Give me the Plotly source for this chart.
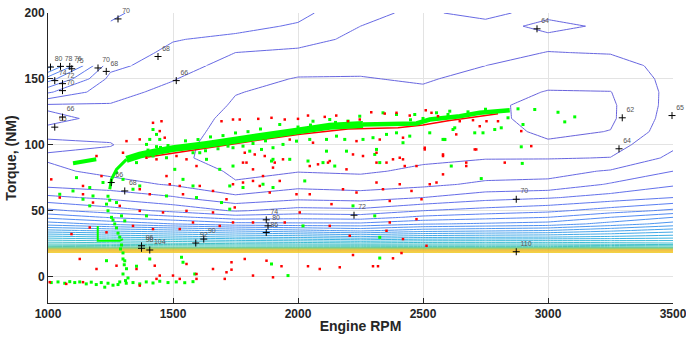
import plotly.graph_objects as go

# ---------------- contour map data ----------------
rpm_grid = [1000, 1250, 1500, 1750, 2000, 2250, 2500, 2750, 3000, 3250, 3500]
torque_grid = [18, 19, 20, 21, 22, 25, 30, 35, 40, 45, 50, 60, 70, 80, 90, 100, 110, 120, 130, 140, 150, 160]
z_low = [
    [150, 150, 150, 150, 150, 150, 150, 150, 150, 150, 150],
    [140, 140, 140, 140, 140, 140, 140, 140, 140, 140, 140],
    [126, 125.5, 125.5, 125, 125, 125, 125, 125, 125, 125, 125],
    [115, 114.5, 114.5, 114, 114, 114, 114, 114, 114, 113.5, 113],
    [106, 105.5, 105, 104.5, 104.5, 104.5, 104, 104, 104, 103.5, 103],
    [99.5, 99, 98.5, 98, 97.5, 97, 97.5, 97.5, 97.5, 97, 96.5],
    [93, 92, 91, 90, 89.5, 88.5, 89.5, 89.8, 90, 90.5, 91.2],
    [86.5, 85.5, 84.5, 83.5, 82.5, 81.5, 83, 83.5, 84, 85.5, 87],
    [81, 79.5, 78, 76.7, 76.5, 76.5, 77.8, 78.3, 78.8, 80.8, 82.8],
    [77.5, 75.8, 74.5, 73, 73.3, 73, 74.5, 75.3, 76, 78, 80],
    [74.5, 73, 71.5, 69.8, 70.8, 70.6, 72, 72.8, 73.5, 75, 76.5],
    [70.5, 69.5, 68.2, 66.5, 67.4, 67.1, 68, 69.2, 69.8, 70.8, 72],
    [67.3, 66.7, 65.8, 64.1, 65.3, 65, 65.5, 66.4, 66.5, 68.2, 69.7],
    [66.4, 65.5, 64.8, 63.8, 63.9, 63.7, 64.4, 65, 65.3, 66.2, 68],
    [65.8, 65.3, 64.15, 63.7, 63.4, 63.4, 63.6, 63.9, 63.9, 64.05, 66.5],
    [66.3, 66.1, 64.25, 63.6, 63.3, 63.3, 63.3, 63.2, 62.3, 63.2, 65.6],
    [65.6, 65.5, 64.45, 63.6, 63.3, 63.3, 63.2, 62.8, 61.6, 62.05, 65.2],
    [66.4, 65.6, 64.6, 63.7, 63.4, 63.3, 63.2, 62.5, 61.3, 61.7, 64.9],
    [65.7, 65.9, 65.0, 63.85, 63.5, 63.4, 63.4, 62.4, 61.4, 61.7, 64.7],
    [70.3, 66.6, 65.5, 64.05, 63.7, 63.6, 63.7, 62.8, 61.9, 61.95, 64.6],
    [75, 67.4, 66.1, 64.6, 63.9, 63.9, 64.2, 63.4, 62.6, 62.8, 64.5],
    [81, 68.6, 66.8, 65.3, 64.6, 64.4, 64.7, 64.0, 63.4, 63.3, 64.6],
]
rpm_grid_top = [1250, 1500, 1750, 2000, 2250, 2500, 2750, 3000, 3250, 3500]
torque_grid_top = [160, 170, 180, 190, 200]
z_top = [
    [68.6, 66.8, 65.3, 64.6, 64.4, 64.7, 64.0, 63.4, 63.3, 64.6],
    [69.0, 67.6, 66.0, 65.7, 65.0, 65.0, 64.6, 63.95, 64.1, 65.2],
    [69.3, 68.1, 67.6, 66.6, 65.6, 65.2, 65.0, 64.6, 64.6, 65.5],
    [69.7, 68.3, 68.5, 67.8, 66.0, 65.2, 64.9, 63.4, 64.4, 65.6],
    [70.5, 68.4, 69.0, 68.5, 66.6, 65.5, 67.0, 64.6, 65.0, 65.8],
]

# ---------------- operating points ----------------
band_curve_rpm = [1247, 1254, 1274, 1314]
band_curve_torque = [66.3, 73.8, 81.4, 89]
band_left_rpm = [1314, 1367, 1434, 1500, 1634, 1767, 1860, 1994, 2127, 2260]
band_left_torque = [89, 92.2, 94.8, 97.1, 100.3, 103.6, 107, 110.4, 114.1, 115.4]
band_right_rpm = [2260, 2394, 2474, 2527, 2647, 2727, 2807, 2847]
band_right_torque = [115.4, 115.4, 116.2, 119.2, 121.7, 124.3, 126.1, 126.3]
red_band_rpm = [1400, 1600, 1800, 2000, 2200, 2400, 2500, 2600, 2700, 2800]
red_band_torque = [90.8, 96.8, 102.4, 107.8, 112.0, 112.9, 115.0, 118.2, 121.0, 123.5]
green_path_rpm = [1199, 1199, 1287, 1300]
green_path_torque = [38.5, 27.2, 27.2, 28.5]
cluster_rpm = [1100, 1150, 1193]
cluster_torque = [86.0, 87.5, 89.0]

green_rpm = [
    1240, 1234, 1240, 1254, 1267, 1274, 1280, 1287, 1294, 1300, 1307, 1314, 1300, 1310, 1280, 1247, 1260, 1290, 1305, 1320,
    1420, 1434, 1407, 1447, 1394, 1434, 1420, 1474, 1354, 1274, 1300, 1367, 1507, 1540, 1580, 1687, 1607, 1634, 1740, 1114, 1167,
    1740, 1780, 1807, 1854, 1900, 1940, 1994, 2047, 2114, 2154, 2187, 2260, 2300, 2354, 2394, 2447, 2527, 2580, 2620, 1900, 1967, 2114, 2194, 2314, 2420,
    1927, 2060, 2127, 2247, 2340, 2394, 2467, 2554, 2607,
    2880, 2947, 3040, 3067, 3107, 2900, 2840, 2813, 2787, 2740, 2707, 2627, 2587, 2893, 2897, 2733,
    1047, 1100, 1180, 1220, 1340, 1167, 1140, 1274, 1294, 1307, 1394, 1474, 1594, 1694, 1727, 1234, 1300, 1354, 1407, 1534, 1540, 1587, 1227,
    1780, 1860, 1900, 2027, 1727, 2020, 2220, 2307, 2327, 1894, 1960, 2327,
    1013, 1040, 1067, 1087, 1107, 1127, 1153, 1173, 1193, 1213, 1240, 1260, 1287, 1313, 1340, 1367, 1393, 1420, 1447, 1480, 1513, 1547, 1580,
    1894, 2040, 2307, 2327, 2100, 2147, 2613, 2587,
    1550, 1600, 1650, 1700, 1750, 1800, 1850, 1580, 1630, 1680, 1720, 1820, 1870, 2000, 2050, 2150, 2200, 2450, 2500, 2600, 2680, 2750, 1450, 1480, 1400,
]
green_torque = [
    61, 55, 50, 45, 40, 37, 33, 30, 24, 18, 12, 6, 2, -3, -6, 58, 43, 21, 9, -1,
    111.6, 107.9, 104.1, 104.1, 100.3, 98.6, 91.5, 90.2, 86.5, 78.9, 73.8, 68.8, 81.4, 73.8, 68.8, 81.4, 94, 89, 83.9, 75.1, 67.6,
    97.8, 99, 95.2, 96.5, 97.8, 100.3, 102.8, 104.1, 104.1, 106.6, 104.1, 104.1, 105.4, 107.9, 109.1, 106.6, 109.1, 104.1, 111.6, 89, 89, 95.2, 95.2, 96.5, 101.6,
    115.4, 117.9, 119.2, 121.7, 124.3, 123, 123, 124.3, 125.5,
    127.3, 126.8, 124.7, 117.4, 121.2, 115.4, 120.5, 112.9, 111.6, 109.1, 109.1, 112.9, 104.1, 98.5, 85.9, 74.4,
    62.5, 65, 61.2, 71.4, 66.3, 53.7, 58.7, 56.2, 46.1, 42.3, 46.1, 61.2, 60, 56.2, 68.8, 12.1, 13.4, 7.9, 13.4, 14.7, 10.9, 2, -8,
    67.6, 70.1, 67.6, 72.6, 51.2, 38.5, 53.7, 46.1, 29.8, 9.6, 0.8, 14.1,
    -4.5, -4, -5, -3.8, -4.5, -4, -5.5, -4.2, -6, -4.5, -5, -6.5, -4, -5, -4.5, -5.5, -4, -4.8, -3.5, -4.5, -4, -4.6, -3.8,
    87.7, 87.7, 92.7, 86.5, 86.5, 83.9, 83.9, 104,
    103, 104, 106, 107, 109, 110, 112, 94, 95.5, 97, 99, 101, 103, 113.5, 115, 117, 118, 119, 120, 123, 125, 127, 98, 99.5, 96,
]

red_rpm = [
    1767, 1841, 1894, 1947, 2000, 2040, 2107, 2153, 2200, 2247, 2293, 2347, 2394, 2447, 2511, 2534, 2560,
    1780, 1820, 1860, 1940, 2047, 2127, 2194, 2260, 2314, 2380, 2420, 2474, 2507, 2580, 2554,
    1967, 2060, 2234, 2327, 2420,
    1420, 1454, 1447, 1467, 1367, 1300, 1314, 1394, 1434, 1514, 1554, 1594, 1474, 1527, 1694, 1740, 1194, 1214, 1140, 1013,
    1047, 1140, 1180, 1287, 1367, 1407, 1487, 1540, 1607, 1660, 1714, 1747, 1367, 1460, 1554, 1660,
    1094, 1167, 1234, 1340, 1420, 1527, 1580, 1687,
    1127, 1194, 1274, 1354, 1427, 1447, 1527, 1554, 1594, 1660, 1714, 1734,
    1007, 1073, 1140, 1367, 1434, 1500, 1594, 1707,
    1740, 1780, 1820, 1847, 1887, 1927, 1994, 2047, 2134, 2180, 2234, 2314, 2340, 2367, 2407, 2454, 2494, 2527,
    1740, 1820, 1947, 2007, 2127, 2207, 2354, 2367, 2420, 2474, 2514,
    1787, 1874, 1934, 2040, 2087, 2167, 2220, 2300, 2320, 2380, 2414, 1734, 1820, 1900,
    2893, 2933, 2707, 2633, 2673, 2827, 2580, 2713, 2580, 2647, 2700, 2754, 2727, 2800,
    1787, 1827, 1867, 1907, 1794, 1900, 2080, 2120, 2220, 2314, 2354, 2407, 2427, 2507, 2673,
]
red_torque = [
    119.2, 119.7, 120.5, 119.2, 119.7, 122.2, 121.2, 122.2, 117.9, 119.2, 124.7, 123.7, 124.3, 122.2, 126.2, 124.3, 121.7,
    86.5, 81.4, 76.3, 89, 83.9, 87.7, 81.4, 91.5, 86.5, 89, 89, 83.9, 96.5, 91.5, 71.4,
    104, 101.6, 102.8, 104, 105.4,
    116.7, 117.9, 110.4, 105.4, 104.1, 94, 102.8, 90.2, 89, 91.5, 89, 83.9, 76.3, 68.8, 117.9, 119.2, 91.5, 76.3, 68.8, 73.8,
    60, 62.5, 56.2, 53.7, 66.3, 62.5, 70.1, 62.5, 68.8, 65, 58.7, 52.5, 49.9, 48.7, 49.9, 48.7,
    32.3, 37.3, 33.6, 38.5, 36.1, 36.1, 41.1, 38.5,
    13.4, 5.8, 8.3, 5.8, 8.3, 0.8, -1.7, 9.6, 2, 5.8, 3.3, 10.9,
    -4.2, -5.5, -4.2, -6.8, -1.7, 0.8, -1.7, -1.7,
    70.1, 71.4, 72.6, 68.8, 63.8, 72.6, 62.5, 62.5, 55, 66.3, 63.8, 71.4, 66.3, 57.4, 70.1, 65, 58.7, 70.1,
    41.1, 41.1, 41.1, 48.7, 38.5, 31, 34.8, 41.1, 28.5, 43.6, 23.4,
    13.4, 12.1, 7.9, 7.9, 5.8, 7.1, 16.4, 7.9, 7.9, 13.9, 17.9, 5.3, 0.8, -0.5,
    110.4, 99, 96.5, 107.9, 86.5, 86.5, 92.7, 96.5, 77.6, 117.9, 118.7, 117.9, 114.1, 117.9,
    94, 92.7, 91.5, 86.5, 86.5, 82.7, 85.2, 86.5, 92.7, 94, 86.5, 90.2, 83.9, 97.8, 83.9,
]

# contour labels (clabel style)
label_text = ["80", "78", "76", "75", "74", "72", "70", "70", "68", "66", "65", "70", "68", "66",
              "64", "62", "64", "65", "70", "110", "72", "74", "80", "86", "66", "68", "96", "98", "104", "92", "90"]
label_rpm = [1010, 1050, 1087, 1095, 1027, 1058, 1058, 1200, 1233, 1058, 1027, 1280, 1440, 1513,
             2956, 3297, 3284, 3496, 2873, 2873, 2224, 1873, 1880, 1873, 1253, 1307, 1374, 1374, 1407, 1591, 1623]
label_torque = [159, 159.5, 159.5, 157.7, 148.7, 146.4, 141.1, 158.3, 155.7, 121, 113.4, 195.5, 167, 148.7,
                188, 120.5, 97, 122.2, 58.7, 18.9, 46.6, 43.1, 38.5, 33.5, 71.4, 65, 23.4, 21.5, 20.2, 25.5, 28.5]

parula = [
    [0.00, "#4f48d6"], [0.08, "#4b55e6"], [0.15, "#3a6ef2"], [0.25, "#2a8cec"],
    [0.35, "#18aadb"], [0.45, "#2cbfb2"], [0.55, "#72c86c"], [0.65, "#c2c33a"],
    [0.75, "#f0b42c"], [0.88, "#f2bf2a"], [1.00, "#f0cc22"],
]

contour_style = dict(
    zmin=62, zmax=150, zauto=False, colorscale=parula, showscale=False,
    autocontour=False, opacity=0.85,
    contours=dict(start=62, end=150, size=2, coloring="lines", showlabels=False),
    line=dict(width=1, smoothing=0), hoverinfo="skip",
)

fig = go.Figure()
fig.add_trace(go.Contour(x=rpm_grid, y=torque_grid, z=z_low, **contour_style))
fig.add_trace(go.Contour(x=rpm_grid_top, y=torque_grid_top, z=z_top, **contour_style))

fig.add_trace(go.Scatter(x=red_band_rpm, y=red_band_torque, mode="lines",
                         line=dict(color="#ff0000", width=1.5), hoverinfo="skip"))
fig.add_trace(go.Scatter(x=band_curve_rpm, y=band_curve_torque, mode="lines",
                         line=dict(color="#00ff00", width=3), hoverinfo="skip"))
fig.add_trace(go.Scatter(x=band_left_rpm, y=band_left_torque, mode="lines",
                         line=dict(color="#00ff00", width=7), hoverinfo="skip"))
fig.add_trace(go.Scatter(x=band_right_rpm, y=band_right_torque, mode="lines",
                         line=dict(color="#00ff00", width=4.5), hoverinfo="skip"))
fig.add_trace(go.Scatter(x=cluster_rpm, y=cluster_torque, mode="lines",
                         line=dict(color="#00ff00", width=4), hoverinfo="skip"))
fig.add_trace(go.Scatter(x=green_path_rpm, y=green_path_torque, mode="lines",
                         line=dict(color="#00ff00", width=2), hoverinfo="skip"))
fig.add_trace(go.Scatter(x=green_rpm, y=green_torque, mode="markers",
                         marker=dict(color="#00ff00", size=3, symbol="square"), hoverinfo="skip"))
fig.add_trace(go.Scatter(x=red_rpm, y=red_torque, mode="markers",
                         marker=dict(color="#ff0000", size=2.5, symbol="square"), hoverinfo="skip"))
fig.add_trace(go.Scatter(x=label_rpm, y=label_torque, mode="markers+text", text=label_text,
                         textposition="top right", cliponaxis=False,
                         textfont=dict(family="Liberation Sans, Arial, sans-serif", size=7, color="#555555"),
                         marker=dict(symbol="cross-thin", size=5, line=dict(width=1, color="#000000")),
                         hoverinfo="skip"))

axis_font = dict(family="Liberation Sans, Arial, sans-serif", size=12, color="#262626", weight="bold")
title_font = dict(family="Liberation Sans, Arial, sans-serif", size=14, color="#262626", weight="bold")

fig.update_layout(
    width=686, height=338, showlegend=False,
    margin=dict(l=48, r=13, t=13, b=35),
    paper_bgcolor="white", plot_bgcolor="white",
    xaxis=dict(range=[1000, 3500], tickvals=[1000, 1500, 2000, 2500, 3000, 3500],
               automargin=False, ticklabeloverflow="allow",
               showgrid=True, gridcolor="#e3e3e3", gridwidth=1, zeroline=False,
               ticks="inside", ticklen=5, tickcolor="#262626",
               showline=True, linecolor="#262626", linewidth=1,
               tickfont=axis_font,
               title=dict(text="Engine RPM", font=title_font, standoff=0)),
    yaxis=dict(range=[-20, 200], tickvals=[0, 50, 100, 150, 200],
               automargin=False, ticklabeloverflow="allow",
               showgrid=True, gridcolor="#e3e3e3", gridwidth=1, zeroline=False,
               ticks="inside", ticklen=5, tickcolor="#262626",
               showline=True, linecolor="#262626", linewidth=1,
               tickfont=axis_font,
               title=dict(text="Torque, (NM)", font=title_font, standoff=4)),
)

fig.write_html("out.html", config={"displayModeBar": False},
               post_script="document.body.style.margin='0px';document.body.style.overflow='hidden';")
